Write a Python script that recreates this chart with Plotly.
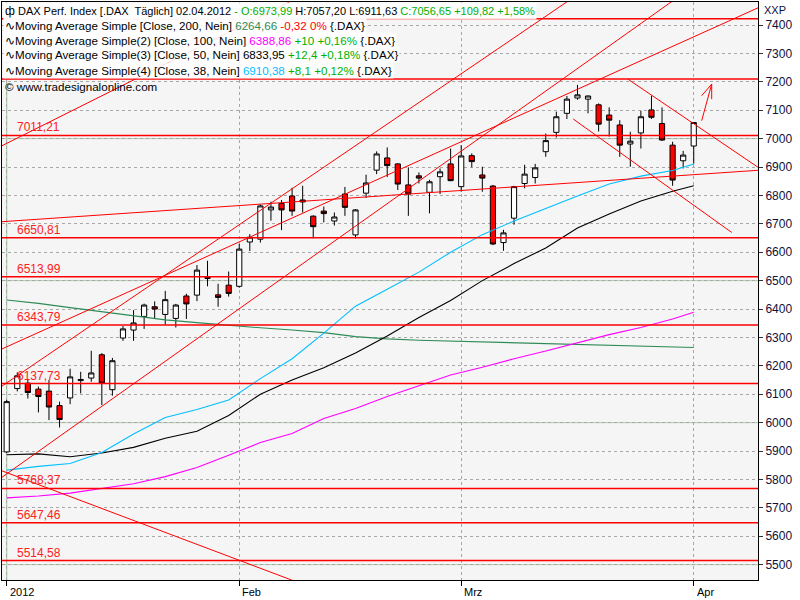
import pandas as pd
import plotly.graph_objects as go

# ---------------- data ----------------
dates = [d.strftime("%Y-%m-%d") for d in pd.bdate_range("2012-01-02", "2012-04-02")]

opens = [5897, 6120, 6139, 6118, 6111, 6060, 6087, 6148, 6157, 6239, 6116,
         6298, 6326, 6374, 6408, 6381, 6367, 6446, 6449, 6512, 6450, 6484,
         6480, 6636, 6646, 6749, 6772, 6798, 6784, 6727, 6745, 6710, 6805,
         6661, 6808, 6889, 6932, 6911, 6837, 6869, 6811, 6866, 6911, 6831,
         6940, 6872, 6833, 6634, 6720, 6842, 6863, 6954, 7022, 7089, 7143,
         7139, 7119, 7083, 7048, 6981, 7020, 7101, 7053, 6977, 6922, 6973.99]
highs = [6080, 6177, 6151, 6127, 6150, 6074, 6190, 6179, 6253, 6245, 6228,
         6340, 6396, 6419, 6427, 6464, 6418, 6454, 6555, 6570, 6489, 6532,
         6629, 6664, 6768, 6778, 6784, 6827, 6834, 6730, 6761, 6740, 6830,
         6752, 6873, 6955, 6969, 6913, 6899, 6881, 6855, 6895, 6965, 6977,
         6948, 6901, 6837, 6679, 6834, 6908, 6911, 7018, 7095, 7150, 7189,
         7152, 7124, 7110, 7065, 7024, 7098, 7151, 7110, 6989, 6957, 7057.20]
lows = [5893, 6110, 6085, 6036, 6009, 5983, 6065, 6103, 6144, 6062, 6095,
        6288, 6288, 6330, 6368, 6345, 6335, 6365, 6428, 6480, 6408, 6444,
        6475, 6604, 6634, 6711, 6678, 6728, 6740, 6649, 6705, 6694, 6728,
        6649, 6791, 6875, 6865, 6819, 6728, 6842, 6737, 6805, 6850, 6813,
        6899, 6813, 6625, 6605, 6697, 6825, 6842, 6936, 7004, 7069, 7137,
        7089, 7025, 7007, 6936, 6901, 6965, 7069, 6992, 6834, 6895, 6911.63]
closes = [6074, 6165, 6106, 6092, 6055, 6011, 6161, 6152, 6175, 6139, 6218,
          6330, 6351, 6414, 6400, 6433, 6414, 6418, 6537, 6508, 6441, 6455,
          6611, 6653, 6763, 6759, 6749, 6745, 6777, 6690, 6736, 6724, 6758,
          6749, 6844, 6946, 6905, 6840, 6805, 6861, 6848, 6883, 6852, 6939,
          6919, 6861, 6629, 6668, 6831, 6875, 6897, 6993, 7077, 7139, 7154,
          7150, 7051, 7065, 6977, 6991, 7077, 7075, 6995, 6854, 6942, 7056.65]

# moving averages read at every third bar (bar index -> value)
ma_idx = [0, 3, 6, 9, 12, 15, 18, 21, 24, 27, 30, 33, 36, 39, 42, 45, 48, 51, 54, 57, 60, 63, 65]
ma200 = [6432, 6420, 6405, 6390, 6376, 6362, 6352, 6342, 6334, 6326, 6317, 6303,
         6295, 6290, 6287, 6284, 6281, 6278, 6275, 6272, 6269, 6266, 6264.66]
ma100 = [5735, 5742, 5752, 5768, 5785, 5810, 5842, 5885, 5930, 5962, 6015, 6050,
         6092, 6130, 6168, 6195, 6225, 6252, 6280, 6310, 6335, 6365, 6388.86]
ma50 = [5887, 5890, 5880, 5893, 5913, 5945, 5970, 6025, 6100, 6150, 6193, 6245,
        6305, 6370, 6430, 6500, 6560, 6615, 6685, 6735, 6780, 6815, 6833.95]
ma38 = [5833, 5846, 5856, 5895, 5960, 6018, 6046, 6080, 6155, 6225, 6315, 6410,
        6470, 6530, 6600, 6662, 6710, 6755, 6798, 6840, 6868, 6888, 6910.38]

levels = [7422.02, 7210.02, 7011.21, 6650.81, 6513.99, 6343.79, 6137.73, 5768.37, 5647.46, 5514.58]

# trend lines: (bar0, price0, bar1, price1)
trend_lines = [
    (-1, 6964.7, 30, 7541.6),
    (-1, 6114.7, 60, 7658.6),
    (-1, 6250.2, 72, 7475.9),
    (-1, 5793.1, 70, 7669.6),
    (-1, 6706.1, 72, 6890.8),
    (-0.47, 5830.6, 30, 5403.1),
    (58.75, 7209.9, 71.1, 6898.6),
    (53.6, 7069.0, 68.59, 6669.7),
]
arrow_lines = [
    (65.75, 7063, 66.7, 7192),
    (65.75, 7151, 66.7, 7192),
    (66.7, 7139, 66.7, 7192),
]

month_ticks = [0, 22, 43, 65]
month_labels = ["2012", "Feb", "Mrz", "Apr"]
y_ticks = list(range(5500, 7401, 100))
green_levels = [5500, 6000, 6500, 7000]

# ---------------- figure ----------------
FONT = "Liberation Sans, Arial, sans-serif"
X0, X1 = -0.445, 71.08
Y0, Y1 = 5446, 7481
PLOT_H = 578.0

bars = list(range(len(dates)))
fig = go.Figure()

# green 500-level and year lines
for g in green_levels:
    fig.add_shape(type="line", xref="x", yref="y", x0=X0, x1=X1, y0=g, y1=g,
                  line=dict(color="#a9cfa9", width=1), layer="below")
fig.add_shape(type="line", xref="x", yref="y", x0=0, x1=0, y0=Y0, y1=Y1,
              line=dict(color="#a9cfa9", width=1.2), layer="below")

fig.add_trace(go.Candlestick(
    x=bars, open=opens, high=highs, low=lows, close=closes,
    increasing=dict(line=dict(color="black", width=1), fillcolor="white"),
    decreasing=dict(line=dict(color="black", width=1), fillcolor="#ff0000"),
    hoverinfo="skip", showlegend=False))

for vals, col in [(ma200, "#2e8b57"), (ma100, "#ff00ff"), (ma50, "#000000"), (ma38, "#00bfff")]:
    fig.add_trace(go.Scatter(x=ma_idx, y=vals, mode="lines", line=dict(color=col, width=1.1),
                             hoverinfo="skip", showlegend=False))

for lv in levels:
    fig.add_trace(go.Scatter(x=[X0 - 1, X1 + 1], y=[lv, lv], mode="lines",
                             line=dict(color="#ff0000", width=1.5), hoverinfo="skip", showlegend=False))

for (a, b, c, d) in trend_lines + arrow_lines:
    fig.add_trace(go.Scatter(x=[a, c], y=[b, d], mode="lines",
                             line=dict(color="#ff0000", width=1), hoverinfo="skip", showlegend=False))

ann = []
# level labels
for lv in levels:
    faint = lv > 7100
    ann.append(dict(xref="paper", yref="y", x=14 / 756, y=lv, xanchor="left", yanchor="bottom",
                    text=f"{lv:.2f}".replace(".", ","), showarrow=False, borderpad=0,
                    font=dict(family=FONT, size=12, color="rgba(255,60,60,0.35)" if faint else "#ff2020")))

# month labels
for t, lab in zip(month_ticks, month_labels):
    ann.append(dict(xref="x", yref="paper", x=t, y=-(592 - 580) / PLOT_H, xanchor="left", yanchor="middle",
                    xshift=1, text=lab, showarrow=False, font=dict(family=FONT, size=11, color="black")))

ann.append(dict(xref="paper", yref="paper", x=(762 - 2) / 756, y=(580 - 10) / PLOT_H, xanchor="left",
                yanchor="middle", text="XXP", showarrow=False, font=dict(family=FONT, size=11, color="#10103a")))

G = "#00b000"
rows = [
    ("<span style='font-size:12px'>ф</span> DAX Perf. Index [.DAX  Täglich] 02.04.2012 "
     f"<span style='color:{G}'>- O:6973,99</span> H:7057,20 L:6911,63 "
     f"<span style='color:{G}'>C:7056,65 +109,82 +1,58%</span>", 11, 11),
    ("∿Moving Average Simple [Close, 200, Nein] <span style='color:#2e8b57'>6264,66</span> "
     "<span style='color:#ff0000'>-0,32 0%</span> {.DAX}", 25.5, 11.6),
    ("∿Moving Average Simple(2) [Close, 100, Nein] <span style='color:#ff00ff'>6388,86</span> "
     f"<span style='color:{G}'>+10 +0,16%</span> {{.DAX}}", 40.5, 11.6),
    ("∿Moving Average Simple(3) [Close, 50, Nein] 6833,95 "
     f"<span style='color:{G}'>+12,4 +0,18%</span> {{.DAX}}", 55, 11.6),
    ("∿Moving Average Simple(4) [Close, 38, Nein] <span style='color:#00bfff'>6910,38</span> "
     f"<span style='color:{G}'>+8,1 +0,12%</span> {{.DAX}}", 70, 11.6),
]
for txt, ypx, fs in rows:
    ann.append(dict(xref="paper", yref="paper", x=1 / 756, y=(580 - ypx) / PLOT_H, xanchor="left",
                    yanchor="middle", text=txt, showarrow=False, bgcolor="rgba(255,255,255,0.88)",
                    borderpad=1, font=dict(family=FONT, size=fs, color="black")))
ann.append(dict(xref="paper", yref="paper", x=1 / 756, y=(580 - 86) / PLOT_H, xanchor="left",
                yanchor="middle", text="© www.tradesignalonline.com", showarrow=False,
                font=dict(family=FONT, size=11.6, color="black")))

fig.update_layout(
    width=800, height=600,
    margin=dict(l=2, r=42, t=2, b=20),
    paper_bgcolor="white", plot_bgcolor="#f5f5f5",
    showlegend=False, annotations=ann,
    xaxis=dict(range=[X0, X1], rangeslider=dict(visible=False), tickvals=month_ticks,
               showticklabels=False, ticks="outside", ticklen=5, tickcolor="black",
               showgrid=True, gridcolor="#a8a8a8", griddash="dot", gridwidth=1, zeroline=False,
               showline=True, linecolor="black", linewidth=1, mirror=True, fixedrange=True),
    yaxis=dict(range=[Y0, Y1], side="right", tickvals=y_ticks, ticktext=[str(v) for v in y_ticks],
               ticks="outside", ticklen=4, tickcolor="#333", showgrid=True, gridcolor="#a8a8a8",
               griddash="dot", gridwidth=1, zeroline=False, showline=True, linecolor="black",
               linewidth=1, mirror=True, tickfont=dict(family=FONT, size=12, color="#10103a"),
               fixedrange=True),
)

fig.write_html("out.html", config={"displayModeBar": False},
               post_script="document.body.style.margin='0';document.body.style.overflow='hidden';")
